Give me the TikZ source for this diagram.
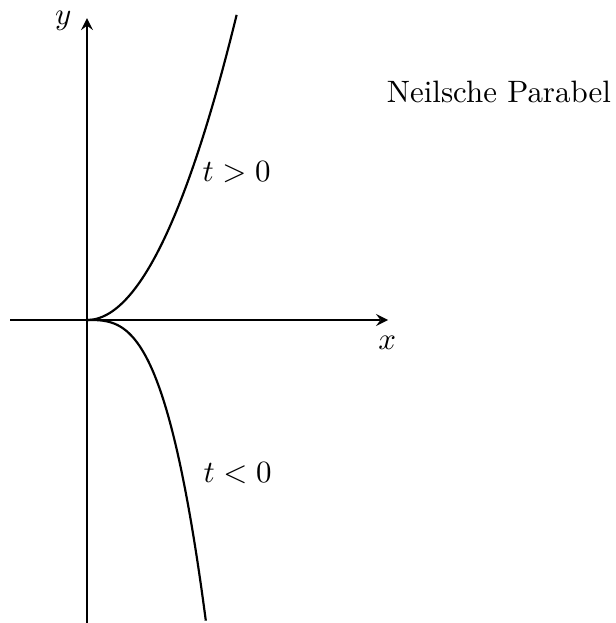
\documentclass[tikz,border=0pt]{standalone}
\usepackage{amsmath, amssymb}
\usetikzlibrary{arrows.meta, positioning, calc}

\begin{document}
\begin{tikzpicture}[line width=0.7pt, >=stealth]
  \useasboundingbox (-0.989,-3.443) rectangle (6.0,3.636);

  % axes
  \coordinate (xstart) at (-0.875,0);
  \coordinate (xend) at (3.42,0);
  \coordinate (ystart) at (0,-3.443);
  \coordinate (yend) at (0,3.43);
  \draw[->] (xstart) -- (xend);
  \draw[->] (ystart) -- (yend);
  \node (xlab) at (3.41,-0.26) {$x$};
  \node (ylab) at (-0.27,3.40) {$y$};

  % branches of the curve
  \draw[domain=0:1.70, samples=60, smooth] plot (\x, {1.2*\x*\x});
  \draw[domain=0:1.35, samples=60, smooth] plot (\x, {-1.39*\x*\x*\x});
  \node (tpos) at (1.70,1.682) {$t>0$};
  \node (tneg) at (1.71,-1.739) {$t<0$};

  \node (title) at (4.68,2.59) {Neilsche Parabel};
\end{tikzpicture}
\end{document}
